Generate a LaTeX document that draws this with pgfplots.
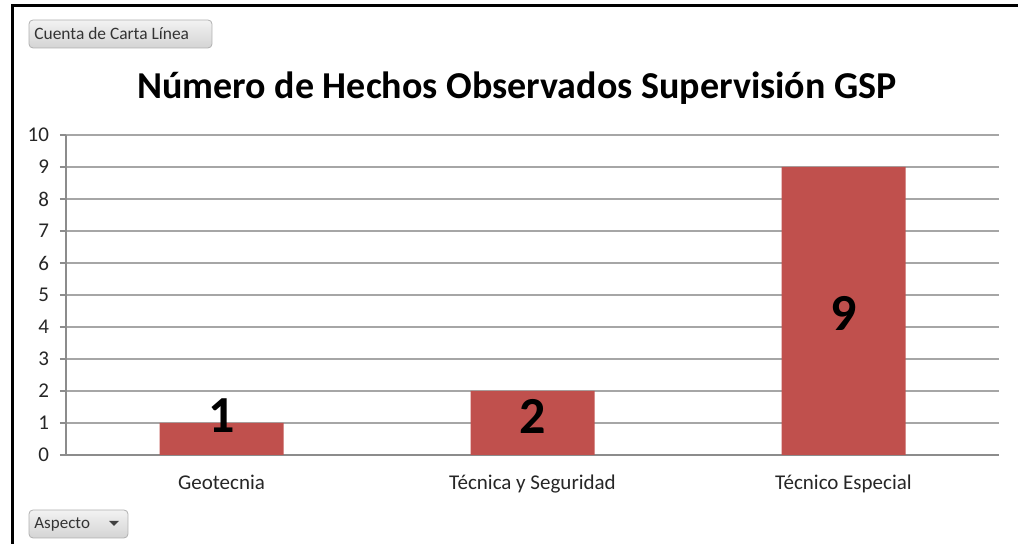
\documentclass[border=0pt]{standalone}
\usepackage{pgfplots}
\pgfplotsset{compat=1.18}
\usepackage{fontspec}
\setmainfont{Carlito}
\definecolor{barred}{HTML}{C0504D}
\definecolor{gridgray}{HTML}{A6A6A6}
\definecolor{axisgray}{HTML}{8C8C8C}
\definecolor{btntop}{HTML}{F2F2F2}
\definecolor{btnbot}{HTML}{D4D4D4}
\definecolor{btnedge}{HTML}{B0B0B0}

\begin{document}
\begin{tikzpicture}
% picture frame: 1px = 0.5pt
\path[use as bounding box] (0,0) rectangle (509pt,272pt);
\draw[line width=1.5pt] (6pt,0) -- (6pt,269pt) -- (509pt,269pt);

% pivot field buttons
\shade[top color=btntop, bottom color=btnbot, draw=btnedge, rounded corners=2pt]
  (14.5pt,248pt) rectangle (106pt,262pt);
\node[anchor=west, font=\fontsize{8.7}{10}\selectfont, text=black!80, inner sep=0pt]
  at (17pt,255pt) {Cuenta de Carta Línea};
\shade[top color=btntop, bottom color=btnbot, draw=btnedge, rounded corners=2pt]
  (14.5pt,3pt) rectangle (64pt,17pt);
\node[anchor=west, font=\fontsize{8.5}{10}\selectfont, text=black!80, inner sep=0pt]
  at (17pt,10pt) {Aspecto};
\fill[black!75] (54.5pt,11.5pt) -- (59.5pt,11.5pt) -- (57pt,9pt) -- cycle;

% title
\node[font=\fontsize{19}{22}\selectfont\bfseries] at (258.5pt,228pt)
  {Número de Hechos Observados Supervisión GSP};

\begin{axis}[
  at={(33pt,44.5pt)}, anchor=south west,
  scale only axis,
  width=466.5pt, height=160pt,
  xmin=-0.5, xmax=2.5,
  ymin=0, ymax=10,
  axis x line*=bottom, axis y line*=left,
  axis line style={axisgray, line width=0.6pt, -},
  xtick={0,1,2},
  xticklabels={Geotecnia, Técnica y Seguridad, Técnico Especial},
  x tick style={draw=none},
  extra x ticks={0.5,1.5,2.5},
  extra x tick labels={},
  extra x tick style={grid=none, tick align=outside, major tick length=3pt,
    tick style={axisgray, line width=0.6pt}},
  ytick={0,1,...,10},
  ymajorgrids,
  grid style={gridgray, line width=0.6pt},
  y tick style={axisgray, line width=0.6pt},
  tick align=outside,
  major tick length=3pt,
  tick label style={font=\fontsize{10.5}{12}\selectfont, text=black!85},
  xticklabel style={yshift=-3.5pt},
  yticklabel style={xshift=-2pt},
  /pgf/number format/assume math mode=true,
  clip=false,
]
\addplot[ybar, bar width=62pt, bar shift=0pt, fill=barred, draw=none]
  coordinates {(0,1) (1,2) (2,9)};
\addplot[draw=none, nodes near coords, point meta=explicit symbolic,
  every node near coord/.append style={anchor=center,
    font=\fontsize{26}{28}\selectfont\bfseries}]
  coordinates {(0,1.22)[1] (1,1.22)[2] (2,4.42)[9]};
\end{axis}
\end{tikzpicture}
\end{document}
